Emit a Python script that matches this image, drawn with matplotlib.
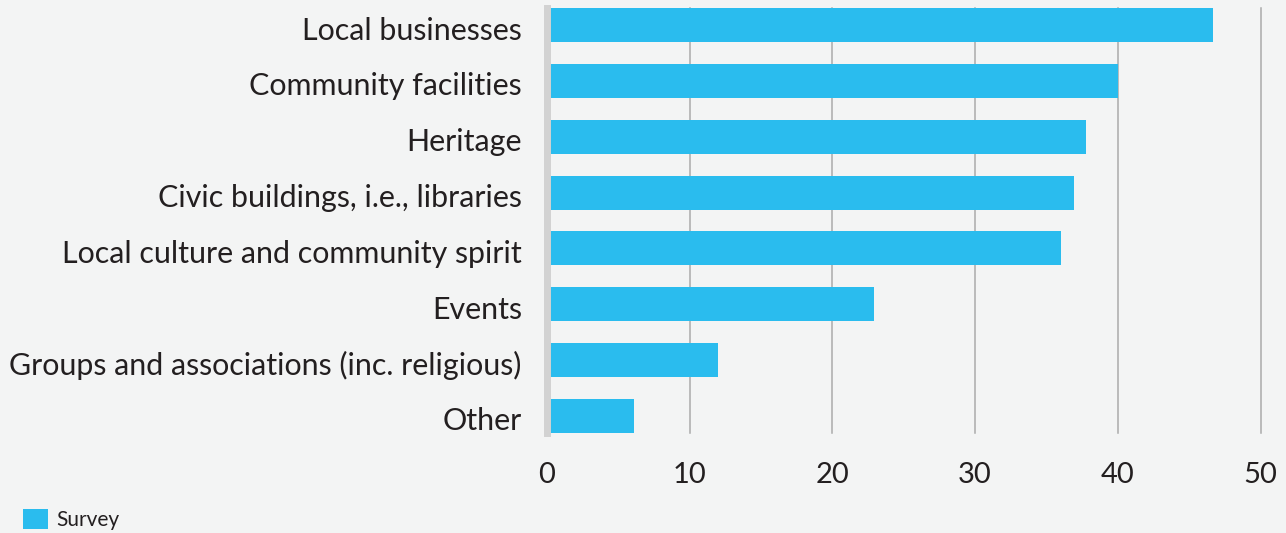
import matplotlib
matplotlib.use("Agg")
import matplotlib.pyplot as plt
from matplotlib.transforms import ScaledTranslation

categories = [
    "Local businesses",
    "Community facilities",
    "Heritage",
    "Civic buildings, i.e., libraries",
    "Local culture and community spirit",
    "Events",
    "Groups and associations (inc. religious)",
    "Other",
]
survey = [46.7, 40.0, 37.8, 36.9, 36.0, 22.9, 12.0, 6.1]
x_ticks = [0, 10, 20, 30, 40, 50]

BG = "#f3f4f4"
BAR = "#2abcee"
TEXT = "#231f20"

plt.rcParams["font.family"] = ["Lato", "DejaVu Sans"]

fig = plt.figure(figsize=(12.86, 5.33), dpi=100, facecolor=BG)
ax = fig.add_axes([0.4252, 0.1876, 0.5550, 0.7974], facecolor=BG)

y = list(range(len(categories)))
bars = ax.barh(y, survey, height=0.61, color=BAR, zorder=2, label="Survey")

ax.set_ylim(len(categories) - 1 + 0.305, -0.305)
ax.set_xlim(0, 50)
ax.set_yticks(y)
ax.set_yticklabels(categories, fontsize=21.9, color=TEXT)
ax.set_xticks(x_ticks)
ax.set_xticklabels([str(t) for t in x_ticks], fontsize=21, color=TEXT)
ax.tick_params(axis="y", length=0, pad=18)
ax.tick_params(axis="x", length=0, pad=21)

# nudge category labels slightly below the bar centres
shift = ScaledTranslation(0, -3 / 100, fig.dpi_scale_trans)
for lbl in ax.get_yticklabels():
    lbl.set_transform(lbl.get_transform() + shift)

ax.grid(axis="x", color="#aaaaaa", linewidth=1.1, zorder=1)
for gl in ax.get_xgridlines():
    gl.set_clip_on(False)
ax.set_axisbelow(True)

for side in ("top", "right", "bottom"):
    ax.spines[side].set_visible(False)
ax.spines["left"].set_color("#d2d2d2")
ax.spines["left"].set_linewidth(5)
ax.spines["left"].set_zorder(3)

fig.legend(
    handles=[bars],
    labels=["Survey"],
    loc="lower left",
    bbox_to_anchor=(0.003, -0.03),
    frameon=False,
    fontsize=15,
    handlelength=1.2,
    handleheight=1.1,
    handletextpad=0.4,
    labelcolor=TEXT,
)

fig.savefig("out.png", dpi=100, facecolor=BG)
